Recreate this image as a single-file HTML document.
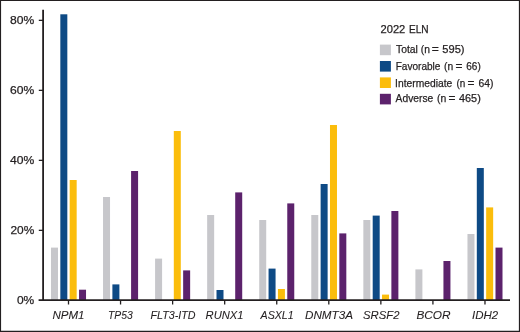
<!DOCTYPE html>
<html><head><meta charset="utf-8"><title>chart</title>
<style>html,body{margin:0;padding:0;background:#fff}svg{display:block}text{font-family:"Liberation Sans",Arial,sans-serif;fill:#231f20;stroke:#231f20;stroke-width:0.25px}text.it{font-style:italic;stroke-width:0.08px}</style></head><body>
<svg width="520" height="332" viewBox="0 0 520 332">
<rect x="0" y="0" width="520" height="332" fill="#fff"/>
<rect x="50.98" y="247.60" width="7.0" height="52.40" fill="#c7c7cb"/>
<rect x="60.33" y="14.30" width="7.0" height="285.70" fill="#0e4a85"/>
<rect x="69.67" y="180.00" width="7.0" height="120.00" fill="#fbbd0c"/>
<rect x="79.03" y="289.70" width="7.0" height="10.30" fill="#5c226c"/>
<rect x="103.03" y="197.00" width="7.0" height="103.00" fill="#c7c7cb"/>
<rect x="112.39" y="284.40" width="7.0" height="15.60" fill="#0e4a85"/>
<rect x="131.09" y="171.00" width="7.0" height="129.00" fill="#5c226c"/>
<rect x="155.09" y="258.60" width="7.0" height="41.40" fill="#c7c7cb"/>
<rect x="173.80" y="131.00" width="7.0" height="169.00" fill="#fbbd0c"/>
<rect x="183.15" y="270.40" width="7.0" height="29.60" fill="#5c226c"/>
<rect x="207.16" y="215.00" width="7.0" height="85.00" fill="#c7c7cb"/>
<rect x="216.50" y="290.00" width="7.0" height="10.00" fill="#0e4a85"/>
<rect x="235.21" y="192.40" width="7.0" height="107.60" fill="#5c226c"/>
<rect x="259.22" y="220.00" width="7.0" height="80.00" fill="#c7c7cb"/>
<rect x="268.56" y="268.60" width="7.0" height="31.40" fill="#0e4a85"/>
<rect x="277.92" y="289.00" width="7.0" height="11.00" fill="#fbbd0c"/>
<rect x="287.26" y="203.40" width="7.0" height="96.60" fill="#5c226c"/>
<rect x="311.28" y="215.00" width="7.0" height="85.00" fill="#c7c7cb"/>
<rect x="320.62" y="184.00" width="7.0" height="116.00" fill="#0e4a85"/>
<rect x="329.98" y="125.00" width="7.0" height="175.00" fill="#fbbd0c"/>
<rect x="339.32" y="233.40" width="7.0" height="66.60" fill="#5c226c"/>
<rect x="363.34" y="220.00" width="7.0" height="80.00" fill="#c7c7cb"/>
<rect x="372.69" y="215.60" width="7.0" height="84.40" fill="#0e4a85"/>
<rect x="382.04" y="294.60" width="7.0" height="5.40" fill="#fbbd0c"/>
<rect x="391.38" y="211.00" width="7.0" height="89.00" fill="#5c226c"/>
<rect x="415.40" y="269.40" width="7.0" height="30.60" fill="#c7c7cb"/>
<rect x="443.44" y="261.00" width="7.0" height="39.00" fill="#5c226c"/>
<rect x="467.46" y="234.00" width="7.0" height="66.00" fill="#c7c7cb"/>
<rect x="476.81" y="168.00" width="7.0" height="132.00" fill="#0e4a85"/>
<rect x="486.16" y="207.40" width="7.0" height="92.60" fill="#fbbd0c"/>
<rect x="495.50" y="247.60" width="7.0" height="52.40" fill="#5c226c"/>
<path d="M43.1 9.7V300.9" fill="none" stroke="#231f20" stroke-width="1.8"/>
<path d="M38.6 300.05H510" fill="none" stroke="#231f20" stroke-width="1.7"/>
<path d="M38.8 230.35H43" stroke="#231f20" stroke-width="1.3"/>
<path d="M38.8 160.35H43" stroke="#231f20" stroke-width="1.3"/>
<path d="M38.8 90.35H43" stroke="#231f20" stroke-width="1.3"/>
<path d="M38.8 20.35H43" stroke="#231f20" stroke-width="1.3"/>
<path d="M68.50 300V304.5" stroke="#231f20" stroke-width="1.3"/>
<path d="M120.56 300V304.5" stroke="#231f20" stroke-width="1.3"/>
<path d="M172.62 300V304.5" stroke="#231f20" stroke-width="1.3"/>
<path d="M224.68 300V304.5" stroke="#231f20" stroke-width="1.3"/>
<path d="M276.74 300V304.5" stroke="#231f20" stroke-width="1.3"/>
<path d="M328.80 300V304.5" stroke="#231f20" stroke-width="1.3"/>
<path d="M380.86 300V304.5" stroke="#231f20" stroke-width="1.3"/>
<path d="M432.92 300V304.5" stroke="#231f20" stroke-width="1.3"/>
<path d="M484.98 300V304.5" stroke="#231f20" stroke-width="1.3"/>
<text x="10.00" y="23.65" font-size="11.5" textLength="24.24" lengthAdjust="spacingAndGlyphs">80%</text>
<text x="10.00" y="93.65" font-size="11.5" textLength="24.24" lengthAdjust="spacingAndGlyphs">60%</text>
<text x="10.00" y="163.65" font-size="11.5" textLength="24.24" lengthAdjust="spacingAndGlyphs">40%</text>
<text x="10.40" y="233.65" font-size="11.5" textLength="23.83" lengthAdjust="spacingAndGlyphs">20%</text>
<text x="16.90" y="303.65" font-size="11.5" textLength="17.34" lengthAdjust="spacingAndGlyphs">0%</text>
<text x="52.40" y="319.0" font-size="11" class="it" textLength="32.12" lengthAdjust="spacingAndGlyphs">NPM1</text>
<text x="108.00" y="319.0" font-size="11" class="it" textLength="24.77" lengthAdjust="spacingAndGlyphs">TP53</text>
<text x="150.60" y="319.0" font-size="11" class="it" textLength="44.95" lengthAdjust="spacingAndGlyphs">FLT3-ITD</text>
<text x="205.60" y="319.0" font-size="11" class="it" textLength="37.92" lengthAdjust="spacingAndGlyphs">RUNX1</text>
<text x="260.57" y="319.0" font-size="11" class="it" textLength="33.15" lengthAdjust="spacingAndGlyphs">ASXL1</text>
<text x="305.00" y="319.0" font-size="11" class="it" textLength="47.96" lengthAdjust="spacingAndGlyphs">DNMT3A</text>
<text x="363.00" y="319.0" font-size="11" class="it" textLength="36.52" lengthAdjust="spacingAndGlyphs">SRSF2</text>
<text x="416.40" y="319.0" font-size="11" class="it" textLength="34.14" lengthAdjust="spacingAndGlyphs">BCOR</text>
<text x="472.00" y="319.0" font-size="11" class="it" textLength="26.12" lengthAdjust="spacingAndGlyphs">IDH2</text>
<text y="32.8" font-size="11.3"><tspan x="380.50" textLength="24.78" lengthAdjust="spacingAndGlyphs">2022</tspan> <tspan x="408.90" textLength="19.74" lengthAdjust="spacingAndGlyphs">ELN</tspan></text>
<text y="53.3" font-size="11.3"><tspan x="396.00" textLength="21.87" lengthAdjust="spacingAndGlyphs">Total</tspan> <tspan x="420.80" textLength="9.16" lengthAdjust="spacingAndGlyphs">(n</tspan> <tspan x="431.80" textLength="7.07" lengthAdjust="spacingAndGlyphs">=</tspan> <tspan x="442.30" textLength="22.27" lengthAdjust="spacingAndGlyphs">595)</tspan></text>
<text y="69.5" font-size="11.3"><tspan x="395.70" textLength="44.75" lengthAdjust="spacingAndGlyphs">Favorable</tspan> <tspan x="444.10" textLength="9.16" lengthAdjust="spacingAndGlyphs">(n</tspan> <tspan x="455.60" textLength="6.97" lengthAdjust="spacingAndGlyphs">=</tspan> <tspan x="466.30" textLength="14.49" lengthAdjust="spacingAndGlyphs">66)</tspan></text>
<text y="86.8" font-size="11.3"><tspan x="395.09" textLength="57.17" lengthAdjust="spacingAndGlyphs">Intermediate</tspan> <tspan x="456.40" textLength="8.85" lengthAdjust="spacingAndGlyphs">(n</tspan> <tspan x="467.60" textLength="6.97" lengthAdjust="spacingAndGlyphs">=</tspan> <tspan x="478.40" textLength="14.98" lengthAdjust="spacingAndGlyphs">64)</tspan></text>
<text y="102.3" font-size="11.3"><tspan x="395.60" textLength="37.66" lengthAdjust="spacingAndGlyphs">Adverse</tspan> <tspan x="437.00" textLength="9.26" lengthAdjust="spacingAndGlyphs">(n</tspan> <tspan x="448.40" textLength="6.97" lengthAdjust="spacingAndGlyphs">=</tspan> <tspan x="459.00" textLength="21.77" lengthAdjust="spacingAndGlyphs">465)</tspan></text>
<rect x="379.9" y="44.60" width="11" height="10.6" fill="#c7c7cb"/>
<rect x="379.9" y="61.00" width="11" height="10.6" fill="#0e4a85"/>
<rect x="379.9" y="77.40" width="11" height="10.6" fill="#fbbd0c"/>
<rect x="379.9" y="93.80" width="11" height="10.6" fill="#5c226c"/>
<path d="M0 0.5H520M0.5 0V332M0 331.4H520M519.45 0V332" fill="none" stroke="#231f20" stroke-width="1.15"/>
</svg></body></html>
